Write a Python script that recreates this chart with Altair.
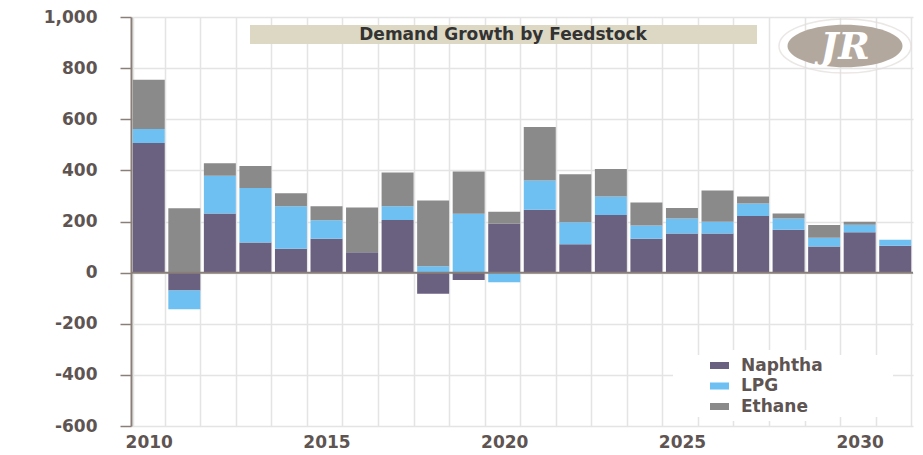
import altair as alt
import pandas as pd

years = list(range(2010, 2032))
naphtha = [507, -70, 231, 118, 93, 133, 80, 206, -83, -29, 191, 246, 111, 225, 133, 153, 153, 222, 168, 102, 158, 105]
lpg = [55, -73, 148, 213, 167, 72, 0, 54, 25, 230, -38, 114, 86, 73, 51, 59, 46, 48, 44, 34, 29, 24]
ethane = [193, 252, 49, 86, 51, 55, 175, 132, 257, 166, 47, 210, 188, 107, 90, 41, 122, 28, 19, 50, 12, 0]
series = ["Naphtha", "LPG", "Ethane"]
colors = ["#6A6080", "#6EC0F2", "#8A8A8A"]
title_text = ["Demand Growth by Feedstock"]
logo_text = ["JR"]
y_ticks = list(range(-600, 1001, 200))

rows = []
for i, y in enumerate(years):
    for k, (name, vals) in enumerate(zip(series, [naphtha, lpg, ethane])):
        rows.append({"year": y, "feed": name, "value": vals[i], "ord": k})
df = pd.DataFrame(rows)

FONT = "DejaVu Sans"
TXT = "#5E5452"
AX = "#8A7F78"
GRID = "#E4E4E4"

W, H = 782, 409

bars = alt.Chart(df).mark_bar().encode(
    x=alt.X("year:O", title=None,
            scale=alt.Scale(paddingInner=0.1, paddingOuter=0.05),
            axis=alt.Axis(labelExpr="datum.value % 5 == 0 ? datum.label : ''",
                          labelAngle=0, labelOverlap=False, ticks=False, domain=False,
                          grid=True, gridColor=GRID, gridWidth=1.5, tickBand="extent",
                          labelFont=FONT, labelFontSize=17, labelFontWeight="bold",
                          labelColor=TXT, labelPadding=8)),
    y=alt.Y("value:Q", title=None, stack="zero",
            scale=alt.Scale(domain=[-600, 1000], nice=False),
            axis=alt.Axis(values=y_ticks,
                          labelExpr="replace(format(datum.value, ',d'), '\u2212', '-')",
                          grid=True, gridColor=GRID, gridWidth=1.5,
                          domainColor=AX, domainWidth=2, tickColor=AX, tickSize=11, tickWidth=1.5,
                          labelFont=FONT, labelFontSize=17, labelFontWeight="bold",
                          labelColor=TXT, labelPadding=23)),
    color=alt.Color("feed:N", scale=alt.Scale(domain=series, range=colors),
                    legend=alt.Legend(title=None, orient="none", legendX=573, legendY=333,
                                      symbolType="M-1,-0.37H1V0.37H-1Z", symbolSize=361,
                                      symbolStrokeWidth=0, labelFont=FONT, labelFontSize=17,
                                      labelFontWeight="bold", labelColor=TXT, labelOffset=12,
                                      rowPadding=2.5, padding=6)),
    order=alt.Order("ord:Q"),
)

zero = alt.Chart(pd.DataFrame({"z": [0]})).mark_rule(color=AX, strokeWidth=2).encode(
    y=alt.Y("z:Q")
)

legend_bg = alt.Chart(pd.DataFrame({"a": [0]})).mark_rect(color="white").encode(
    x=alt.value(542), x2=alt.value(762), y=alt.value(338), y2=alt.value(400)
)

tdf = pd.DataFrame({"t": title_text})
title_box = alt.Chart(tdf).mark_rect(color="#DCD8C4").encode(
    x=alt.value(119), x2=alt.value(626), y=alt.value(8), y2=alt.value(27)
)
title_lbl = alt.Chart(tdf).mark_text(font=FONT, fontSize=17, fontWeight="bold", color="#333333",
                                     align="center", baseline="middle").encode(
    x=alt.value(372), y=alt.value(18), text="t:N"
)

ldf = pd.DataFrame({"t": logo_text})
logo_ring = alt.Chart(ldf).mark_point(shape="M-1,0A1,0.41,0,1,0,1,0A1,0.41,0,1,0,-1,0Z",
                                      filled=False, color="#E2DDDA", strokeWidth=1.5,
                                      size=132 * 132).encode(
    x=alt.value(714), y=alt.value(29)
)
logo_ell = alt.Chart(ldf).mark_point(shape="M-1,0A1,0.37,0,1,0,1,0A1,0.37,0,1,0,-1,0Z",
                                     filled=True, color="#B3A89E", opacity=1,
                                     size=115 * 115).encode(
    x=alt.value(714), y=alt.value(29)
)
logo_txt = alt.Chart(ldf).mark_text(font="DejaVu Serif", fontSize=38, fontWeight="bold",
                                    fontStyle="italic", color="white", align="center",
                                    baseline="middle").encode(
    x=alt.value(714), y=alt.value(31), text="t:N"
)

chart = alt.layer(bars, zero, legend_bg, title_box, title_lbl, logo_ring, logo_ell, logo_txt).properties(
    width=W, height=H,
    autosize=alt.AutoSizeParams(type="none"),
    padding={"left": 131, "top": 17, "right": 10, "bottom": 29},
).configure_view(stroke=None).configure_legend(fillColor="white")

chart.save("out.html", embed_options={"renderer": "svg", "actions": False})
